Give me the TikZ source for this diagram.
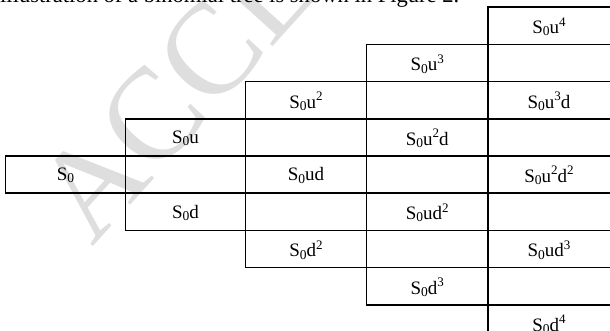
\documentclass[tikz,border=0pt]{standalone}
\usepackage{fontspec}
\setmainfont{Liberation Serif}
\usepackage{graphicx}
% subscript zero and raised exponents, sized as in the table
\newcommand{\lowz}{\raisebox{-0.12em}{\fontsize{13.5}{13.5}\selectfont 0}}
\newcommand{\pw}[1]{\raisebox{0.4em}{\fontsize{13}{13}\selectfont #1}}
\begin{document}
\begin{tikzpicture}[x=1pt,y=-1pt]
  \tikzset{
    cell/.style={inner sep=0pt, font=\fontsize{19}{22}\selectfont, yshift=-1pt},
    rule/.style={line width=1.5pt, line cap=rect}
  }
  \useasboundingbox (0,0) rectangle (610,331);
  \clip (0,0) rectangle (610,331);

  % faint diagonal stamp behind the table
  \node[anchor=base west, rotate=48, inner sep=0pt, text=black!13,
        font=\fontsize{130}{130}\selectfont] (stamp) at (92,248) {ACCEPTED MANUSCRIPT};

  % last line of the running text above the figure
  \node[anchor=base west, inner sep=0pt] (runin) at (0,2.5)
    {\resizebox{459pt}{!}{\fontsize{17}{20}\selectfont illustration of a binomial tree is shown in Figure 2.}};

  % column edges
  \def\xa{5.5}\def\xb{125.5}\def\xc{245.5}\def\xd{366.5}\def\xe{488}\def\xr{612}
  % vertical rules
  \draw[rule] (\xa,156) -- (\xa,193.2);
  \draw[rule] (\xb,118.8) -- (\xb,230.4);
  \draw[rule] (\xc,81.6) -- (\xc,267.6);
  \draw[rule] (\xd,44.4) -- (\xd,304.8);
  \draw[rule] (\xe,7.2) -- (\xe,342);
  % horizontal rules
  \draw[rule] (\xe,7.2) -- (\xr,7.2);
  \draw[rule] (\xd,44.4) -- (\xr,44.4);
  \draw[rule] (\xc,81.6) -- (\xr,81.6);
  \draw[rule] (\xb,118.8) -- (\xr,118.8);
  \draw[rule] (\xa,156) -- (\xr,156);
  \draw[rule] (\xa,193.2) -- (\xr,193.2);
  \draw[rule] (\xb,230.4) -- (\xr,230.4);
  \draw[rule] (\xc,267.6) -- (\xr,267.6);
  \draw[rule] (\xd,304.8) -- (\xr,304.8);

  % prices at each node of the tree
  \node[cell] (s0)     at (65.5,174.6)  {S\lowz};
  \node[cell] (su)     at (185.5,137.4) {S\lowz u};
  \node[cell] (sd)     at (185.5,211.8) {S\lowz d};
  \node[cell] (suu)    at (306,100.2)   {S\lowz u\pw{2}};
  \node[cell] (sud)    at (306,174.6)   {S\lowz ud};
  \node[cell] (sdd)    at (306,249)     {S\lowz d\pw{2}};
  \node[cell] (suuu)   at (427.25,63)   {S\lowz u\pw{3}};
  \node[cell] (suud)   at (427.25,137.4){S\lowz u\pw{2}d};
  \node[cell] (sudd)   at (427.25,211.8){S\lowz ud\pw{2}};
  \node[cell] (sddd)   at (427.25,286.2){S\lowz d\pw{3}};
  \node[cell] (suuuu)  at (549,25.8)    {S\lowz u\pw{4}};
  \node[cell] (suuud)  at (549,100.2)   {S\lowz u\pw{3}d};
  \node[cell] (suudd)  at (549,174.6)   {S\lowz u\pw{2}d\pw{2}};
  \node[cell] (suddd)  at (549,249)     {S\lowz ud\pw{3}};
  \node[cell] (sdddd)  at (549,323.4)   {S\lowz d\pw{4}};
\end{tikzpicture}
\end{document}
